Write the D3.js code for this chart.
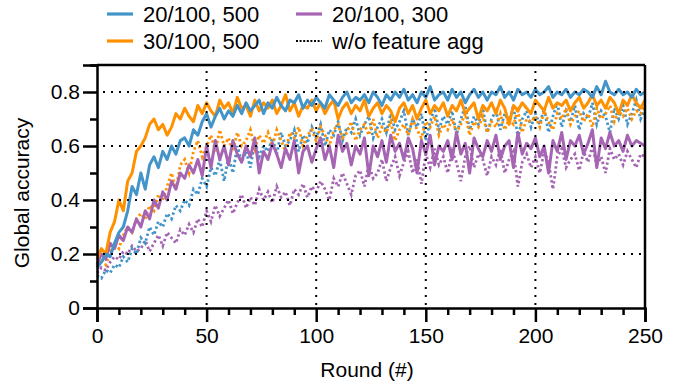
<!DOCTYPE html>
<html>
<head>
<meta charset="utf-8">
<script src="https://cdn.jsdelivr.net/npm/d3@7"></script>
<style>
  html, body { margin: 0; padding: 0; background: #fff; }
  svg text { font-family: "Liberation Sans", Arial, sans-serif; fill: #000; }
</style>
</head>
<body>
<div id="chart"></div>
<script>
// rounds sampled every 2
const rounds = d3.range(0, 251, 2);

const blue500 = [
  0.15, 0.17, 0.2, 0.19, 0.24, 0.28, 0.3, 0.36, 0.45, 0.42,
  0.5, 0.44, 0.53, 0.56, 0.52, 0.58, 0.55, 0.6, 0.57, 0.62,
  0.63, 0.6, 0.66, 0.64, 0.69, 0.72, 0.67, 0.71, 0.74, 0.7,
  0.73, 0.71, 0.75, 0.72, 0.76, 0.73, 0.75, 0.77, 0.72, 0.76,
  0.74, 0.78, 0.75, 0.73, 0.77, 0.76, 0.79, 0.74, 0.77, 0.75,
  0.78, 0.76, 0.74, 0.79, 0.77, 0.75, 0.78, 0.8, 0.76, 0.78,
  0.77, 0.79, 0.76, 0.8, 0.78, 0.75, 0.79, 0.77, 0.8, 0.78,
  0.81, 0.77, 0.79, 0.76, 0.8, 0.78, 0.82, 0.77, 0.79, 0.8,
  0.77, 0.81, 0.78, 0.8, 0.76, 0.79, 0.81, 0.78, 0.8, 0.77,
  0.8, 0.79, 0.82, 0.78, 0.8, 0.77, 0.81, 0.79, 0.8, 0.78,
  0.81, 0.79, 0.8, 0.82, 0.78, 0.8, 0.79, 0.81, 0.78, 0.8,
  0.79, 0.81, 0.8, 0.78, 0.82, 0.79, 0.84, 0.8, 0.79, 0.81,
  0.79, 0.8, 0.78, 0.81, 0.79, 0.8
];
const orange500 = [
  0.18, 0.22, 0.2, 0.28, 0.32, 0.4, 0.36, 0.47, 0.5, 0.58,
  0.6, 0.63, 0.68, 0.7, 0.66, 0.68, 0.64, 0.67, 0.72, 0.7,
  0.74, 0.71, 0.69, 0.75, 0.72, 0.76, 0.73, 0.71, 0.77, 0.74,
  0.76, 0.72, 0.78, 0.74, 0.75, 0.71, 0.77, 0.73, 0.76, 0.74,
  0.77, 0.72, 0.75, 0.79, 0.73, 0.76, 0.71, 0.75, 0.74, 0.77,
  0.73, 0.76, 0.72, 0.75, 0.77, 0.7, 0.74, 0.76, 0.72, 0.75,
  0.73, 0.77, 0.71, 0.74, 0.76, 0.72, 0.75, 0.73, 0.69, 0.74,
  0.76, 0.72, 0.75, 0.7, 0.74, 0.77, 0.72, 0.75, 0.73, 0.76,
  0.71, 0.75, 0.73, 0.77, 0.72, 0.74, 0.76, 0.7, 0.75, 0.73,
  0.76, 0.72, 0.77, 0.74, 0.68, 0.75, 0.73, 0.76, 0.74, 0.72,
  0.77, 0.75, 0.73, 0.78, 0.74, 0.76, 0.75, 0.77, 0.73, 0.76,
  0.78, 0.74, 0.76, 0.79, 0.75, 0.77, 0.74, 0.78, 0.76, 0.72,
  0.77, 0.75, 0.79, 0.76, 0.74, 0.77
];
const purple300 = [
  0.16, 0.2, 0.18, 0.24, 0.22, 0.27, 0.25, 0.3, 0.28, 0.33,
  0.3, 0.36, 0.33, 0.4, 0.37, 0.43, 0.4, 0.47, 0.44, 0.5,
  0.48, 0.53, 0.5, 0.55, 0.49, 0.6, 0.52, 0.62, 0.55, 0.6,
  0.53, 0.62, 0.57, 0.54, 0.6, 0.56, 0.63, 0.5, 0.58, 0.55,
  0.61, 0.57, 0.52, 0.59, 0.55, 0.62, 0.5, 0.58, 0.6, 0.54,
  0.59, 0.63, 0.55, 0.6, 0.52, 0.64, 0.58, 0.61, 0.53, 0.6,
  0.57, 0.63, 0.49, 0.6, 0.56, 0.62, 0.54, 0.64, 0.58, 0.61,
  0.55, 0.63, 0.59, 0.5, 0.62, 0.57, 0.64, 0.53, 0.6, 0.58,
  0.62, 0.55, 0.65, 0.57, 0.61, 0.5, 0.63, 0.59, 0.56, 0.62,
  0.58, 0.64, 0.55, 0.6, 0.62, 0.52, 0.65, 0.57, 0.61, 0.59,
  0.63, 0.56, 0.6, 0.5, 0.62, 0.58, 0.65, 0.55, 0.62, 0.6,
  0.64, 0.57, 0.61, 0.66, 0.52, 0.63, 0.59, 0.65, 0.6, 0.62,
  0.58, 0.64, 0.6, 0.62, 0.61, 0.6
];
// w/o feature agg
const blue500NoAgg = [
  0.12, 0.11, 0.14, 0.13, 0.16, 0.15, 0.19, 0.17, 0.22, 0.2,
  0.26, 0.24, 0.3, 0.27, 0.32, 0.3, 0.35, 0.33, 0.38, 0.36,
  0.4, 0.38, 0.44, 0.42, 0.48, 0.45, 0.52, 0.49, 0.55, 0.47,
  0.56, 0.5, 0.6, 0.54, 0.58, 0.52, 0.62, 0.56, 0.6, 0.58,
  0.63, 0.57, 0.65, 0.6, 0.62, 0.66, 0.58, 0.64, 0.61, 0.67,
  0.63, 0.68, 0.6, 0.66, 0.64, 0.69, 0.62, 0.67, 0.65, 0.7,
  0.64, 0.68, 0.71, 0.63, 0.67, 0.7, 0.65, 0.72, 0.66, 0.69,
  0.73, 0.64, 0.7, 0.67, 0.72, 0.62, 0.69, 0.74, 0.66, 0.71,
  0.68, 0.73, 0.64, 0.7, 0.75, 0.66, 0.71, 0.68, 0.74, 0.65,
  0.7, 0.73, 0.66, 0.72, 0.69, 0.75, 0.63, 0.7, 0.73, 0.67,
  0.72, 0.68, 0.74, 0.65, 0.71, 0.76, 0.67, 0.73, 0.69, 0.75,
  0.66, 0.72, 0.7, 0.76, 0.68, 0.73, 0.71, 0.65, 0.74, 0.7,
  0.75, 0.68, 0.72, 0.77, 0.7, 0.74
];
const orange500NoAgg = [
  0.15, 0.18, 0.16, 0.21, 0.24, 0.22, 0.27, 0.3, 0.28, 0.33,
  0.35, 0.33, 0.38, 0.36, 0.42, 0.4, 0.45, 0.5, 0.44, 0.53,
  0.55, 0.5, 0.58, 0.62, 0.56, 0.6, 0.64, 0.58, 0.66, 0.6,
  0.63, 0.58, 0.65, 0.6, 0.62, 0.66, 0.59, 0.64, 0.61, 0.65,
  0.6, 0.66, 0.62, 0.58, 0.65, 0.63, 0.67, 0.6, 0.64, 0.66,
  0.62, 0.67, 0.64, 0.6, 0.66, 0.68, 0.63, 0.65, 0.69, 0.62,
  0.66, 0.68, 0.64, 0.7, 0.63, 0.67, 0.65, 0.69, 0.62, 0.66,
  0.68, 0.64, 0.7, 0.66, 0.63, 0.69, 0.67, 0.71, 0.64, 0.68,
  0.66, 0.7, 0.65, 0.68, 0.72, 0.64, 0.69, 0.67, 0.71, 0.65,
  0.69, 0.67, 0.72, 0.66, 0.7, 0.68, 0.73, 0.65, 0.7, 0.69,
  0.71, 0.67, 0.73, 0.69, 0.66, 0.72, 0.7, 0.74, 0.68, 0.71,
  0.73, 0.69, 0.72, 0.67, 0.74, 0.7, 0.72, 0.75, 0.69, 0.73,
  0.71, 0.74, 0.7, 0.73, 0.72, 0.75
];
const purple300NoAgg = [
  0.13, 0.15, 0.14, 0.17, 0.19, 0.18, 0.21, 0.2, 0.23, 0.21,
  0.22, 0.25, 0.21, 0.24, 0.27, 0.23, 0.28, 0.26, 0.24, 0.29,
  0.27, 0.31, 0.28, 0.33, 0.3, 0.36, 0.32, 0.38, 0.34, 0.37,
  0.4, 0.35, 0.39, 0.42, 0.37, 0.41, 0.38, 0.44, 0.4, 0.43,
  0.39, 0.45, 0.41, 0.43, 0.38, 0.44, 0.42, 0.46, 0.41, 0.45,
  0.43, 0.47, 0.44, 0.4, 0.48, 0.45, 0.5, 0.46, 0.42, 0.49,
  0.51, 0.45, 0.53, 0.48, 0.5, 0.55, 0.47, 0.52, 0.56, 0.49,
  0.54, 0.58, 0.5, 0.55, 0.46, 0.57, 0.52, 0.59, 0.53, 0.56,
  0.5, 0.58, 0.54, 0.47, 0.56, 0.6, 0.52, 0.57, 0.55, 0.49,
  0.56, 0.53, 0.59, 0.5, 0.55, 0.58, 0.45, 0.54, 0.57, 0.52,
  0.56, 0.5, 0.58, 0.54, 0.44, 0.56, 0.59, 0.52, 0.55, 0.57,
  0.51, 0.58, 0.54, 0.6, 0.53, 0.56, 0.5, 0.59, 0.55, 0.57,
  0.53, 0.58, 0.55, 0.52, 0.57, 0.56
];

const legendLabels = ['20/100, 500', '30/100, 500', '20/100, 300', 'w/o feature agg'];
const yTicks = [0, 0.2, 0.4, 0.6, 0.8];
const yMinorTicks = [0.1, 0.3, 0.5, 0.7, 0.9];
const xTicks = [0, 50, 100, 150, 200, 250];
const xMinorTicks = d3.range(0, 251, 10);

const width = 686, height = 389;
const margin = { top: 65, right: 41, bottom: 81, left: 97 };

const svg = d3.select('#chart')
  .append('svg')
  .attr('width', width)
  .attr('height', height);

const x = d3.scaleLinear().domain([0, 250]).range([margin.left, width - margin.right]);
const y = d3.scaleLinear().domain([0, 0.9]).range([height - margin.bottom, margin.top]);

const BLUE = '#4394c8', ORANGE = '#ff9000', PURPLE = '#a565b3';

const line = d3.line()
  .x((d, i) => x(rounds[i]))
  .y(d => y(d));

// dotted series first
[[purple300NoAgg, PURPLE], [blue500NoAgg, BLUE], [orange500NoAgg, ORANGE]].forEach(([vals, c]) => {
  svg.append('path')
    .datum(vals)
    .attr('fill', 'none')
    .attr('stroke', c)
    .attr('stroke-width', 2.8)
    .attr('stroke-dasharray', '2.4 2.6')
    .attr('d', line);
});

// solid series
[[purple300, PURPLE], [orange500, ORANGE], [blue500, BLUE]].forEach(([vals, c]) => {
  svg.append('path')
    .datum(vals)
    .attr('fill', 'none')
    .attr('stroke', c)
    .attr('stroke-width', 3)
    .attr('stroke-linejoin', 'round')
    .attr('d', line);
});

// dotted grid on top
const grid = svg.append('g')
  .attr('stroke', '#000')
  .attr('stroke-width', 2)
  .attr('stroke-dasharray', '2 6');
grid.selectAll('line.h')
  .data(yTicks.filter(t => t > 0))
  .enter().append('line')
  .attr('x1', x(0) + 6).attr('x2', x(250))
  .attr('y1', d => y(d)).attr('y2', d => y(d));
grid.selectAll('line.v')
  .data(xTicks.filter(t => t > 0 && t < 250))
  .enter().append('line')
  .attr('x1', d => x(d)).attr('x2', d => x(d))
  .attr('y1', y(0.9) + 6).attr('y2', y(0));

// frame
svg.append('line')
  .attr('x1', x(0)).attr('x2', x(250))
  .attr('y1', y(0.9)).attr('y2', y(0.9))
  .attr('stroke', '#000').attr('stroke-width', 2.5);
svg.append('line')
  .attr('x1', x(250)).attr('x2', x(250))
  .attr('y1', y(0.9)).attr('y2', y(0))
  .attr('stroke', '#000').attr('stroke-width', 2.5);

// y axis
svg.append('g')
  .attr('transform', `translate(${x(0)},0)`)
  .call(d3.axisLeft(y).tickValues(yTicks).tickSize(14).tickPadding(3)
    .tickFormat(d => d === 0 ? '0' : d3.format('.1f')(d)));
svg.append('g')
  .attr('transform', `translate(${x(0)},0)`)
  .call(d3.axisLeft(y).tickValues(yMinorTicks).tickSize(7).tickFormat(''))
  .call(g => g.select('.domain').remove());

// x axis
svg.append('g')
  .attr('transform', `translate(0,${y(0)})`)
  .call(d3.axisBottom(x).tickValues(xTicks).tickSize(14).tickPadding(6));
svg.append('g')
  .attr('transform', `translate(0,${y(0)})`)
  .call(d3.axisBottom(x).tickValues(xMinorTicks.filter(t => t % 50 !== 0)).tickSize(7).tickFormat(''))
  .call(g => g.select('.domain').remove());

svg.selectAll('.domain, .tick line')
  .attr('stroke', '#000')
  .attr('stroke-width', 2.5);
svg.selectAll('.tick text')
  .style('font-size', '21px')
  .attr('fill', '#000');

// axis titles
svg.append('text')
  .attr('x', 367)
  .attr('y', 377)
  .style('text-anchor', 'middle')
  .style('font-size', '21px')
  .text('Round (#)');

svg.append('text')
  .attr('transform', 'rotate(-90)')
  .attr('x', -193)
  .attr('y', 29)
  .style('text-anchor', 'middle')
  .style('font-size', '21px')
  .text('Global accuracy');

// legend
const legendItems = [
  { label: legendLabels[0], color: BLUE, dash: null, col: 0, row: 0 },
  { label: legendLabels[1], color: ORANGE, dash: null, col: 0, row: 1 },
  { label: legendLabels[2], color: PURPLE, dash: null, col: 1, row: 0 },
  { label: legendLabels[3], color: '#000', dash: '2 1.6', col: 1, row: 1 }
];
const legend = svg.append('g');
legendItems.forEach(it => {
  const lx = it.col === 0 ? 107 : 296;
  const ly = it.row === 0 ? 14 : 41;
  legend.append('line')
    .attr('x1', lx).attr('x2', lx + 26)
    .attr('y1', ly).attr('y2', ly)
    .attr('stroke', it.color)
    .attr('stroke-width', it.dash ? 2.2 : 3.2)
    .attr('stroke-dasharray', it.dash);
  legend.append('text')
    .attr('x', lx + 36)
    .attr('y', ly)
    .attr('dy', '0.36em')
    .style('font-size', '22px')
    .text(it.label);
});
</script>
</body>
</html>
